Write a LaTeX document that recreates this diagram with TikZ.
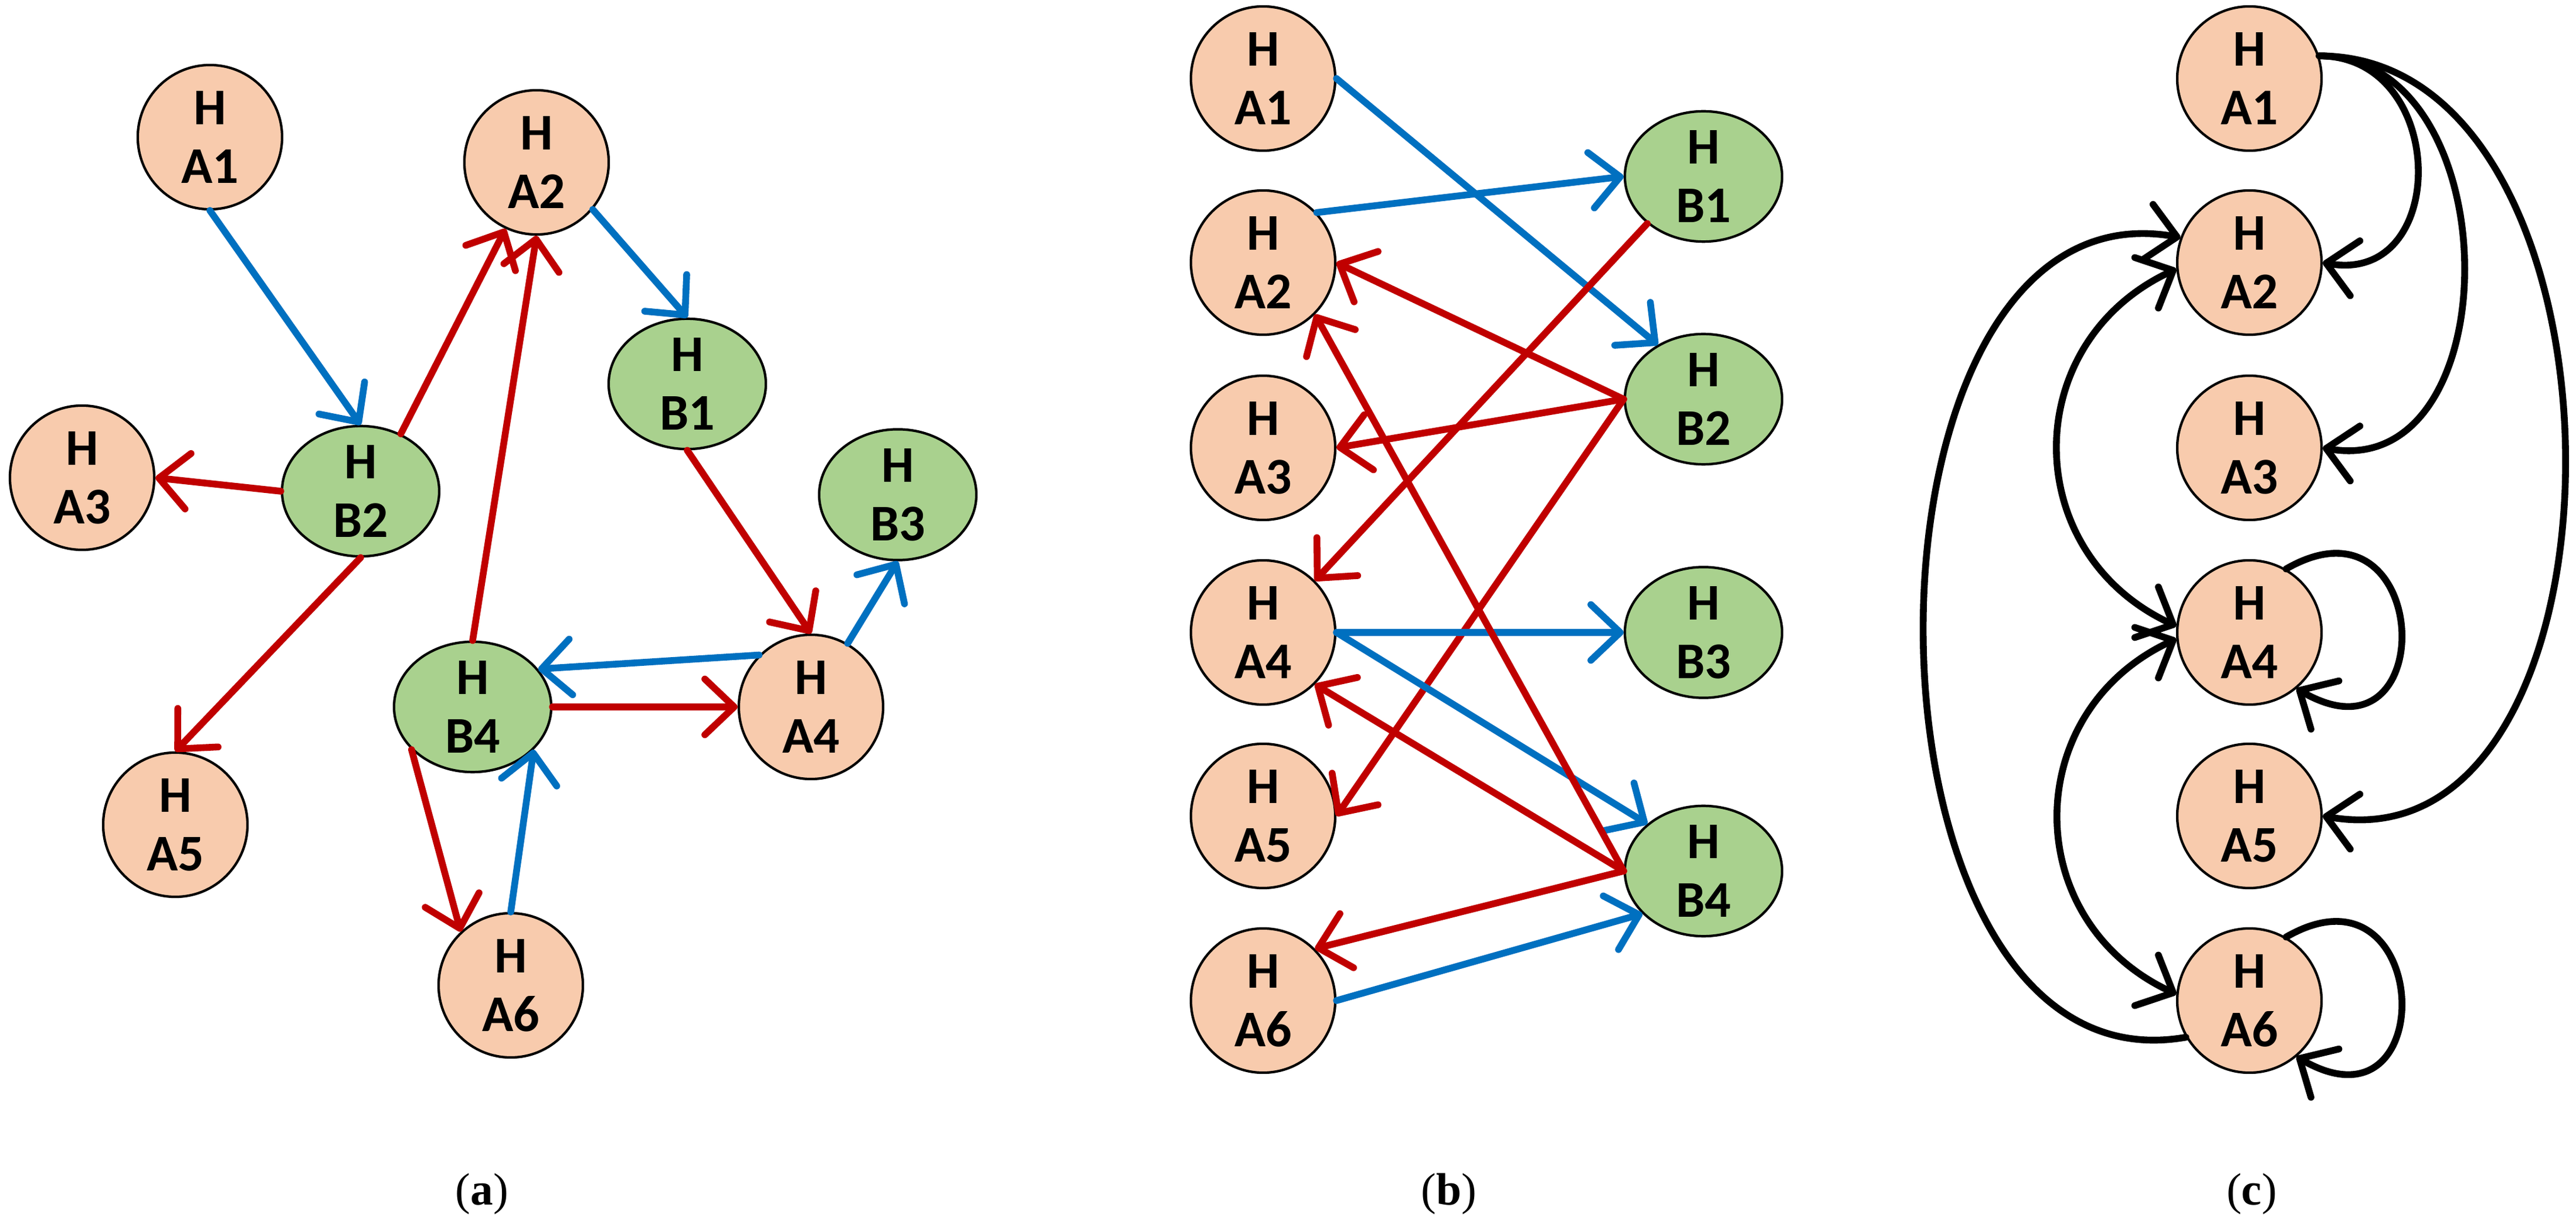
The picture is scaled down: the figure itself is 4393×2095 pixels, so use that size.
\documentclass[tikz,border=0pt]{standalone}
\usepackage{fontspec}
\setmainfont{Carlito}
\newfontfamily\capfont{Liberation Serif}
\usetikzlibrary{arrows.meta,shapes.geometric}
\definecolor{nodeA}{HTML}{F8CBAD}
\definecolor{nodeB}{HTML}{A9D18E}
\definecolor{eblue}{HTML}{0070C0}
\definecolor{ered}{HTML}{C00000}
\begin{document}
\begin{tikzpicture}[x=0.01cm,y=-0.01cm,
  every node/.style={draw=black,line width=1.2pt,inner sep=0pt,align=center,
    font=\fontsize{25}{28.5}\selectfont\bfseries},
  na/.style={circle,fill=nodeA,minimum size=2.46cm},
  nb/.style={ellipse,fill=nodeB,minimum width=2.68cm,minimum height=1.96cm},
  sublabel/.style={draw=none,font=\capfont\fontsize{22}{26}\selectfont},
  tip/.style={Straight Barb[length=0.5cm,width=0.95cm,line width=3.3pt,round]},
  ar/.style={line width=3.3pt,line cap=round,-{Straight Barb[length=0.5cm,width=0.95cm,line width=3.3pt,round]}},
  bl/.style={ar,eblue},
  rd/.style={ar,ered},
  bk/.style={ar,black},
  bb/.style={line width=3.3pt,line cap=round,{Straight Barb[length=0.5cm,width=0.95cm,line width=3.3pt,round]}-{Straight Barb[length=0.5cm,width=0.95cm,line width=3.3pt,round]},black}
]
\useasboundingbox (0,0) rectangle (4393,2095);
% ---------- (a)
\node[na] (a1) at (358,234) {H\\A1};
\node[na] (a2) at (915,277) {H\\A2};
\node[nb] (b1) at (1172,655) {H\\B1};
\node[na] (a3) at (140,815) {H\\A3};
\node[nb] (b2) at (615,838) {H\\B2};
\node[nb] (b3) at (1531,844) {H\\B3};
\node[nb] (b4) at (806,1206) {H\\B4};
\node[na] (a4) at (1383,1206) {H\\A4};
\node[na] (a5) at (299,1407) {H\\A5};
\node[na] (a6) at (871,1681) {H\\A6};
\node[sublabel] (la) at (822,2037) {(\textbf{a})};
\draw[bl] (a1.south) -- (b2.north);
\draw[rd] (b2.55) -- (a2.-115);
\draw[rd] (b2.west) -- (a3.east);
\draw[rd] (b2.south) -- (a5.north);
\draw[rd] (b4.north) -- (a2.south);
\draw[bl] (a2.-40) -- (b1.north);
\draw[rd] (b1.south) -- (a4.north);
\draw[bl] (a4.60) -- (b3.south);
\draw[bl] (a4.135) -- (b4.30);
\draw[rd] (b4.east) -- (a4.west);
\draw[rd] (b4.-145) -- (a6.133);
\draw[bl] (a6.north) -- (b4.-35);
% ---------- (b)
\node[na] (pa1) at (2154,134) {H\\A1};
\node[na] (pa2) at (2154,448) {H\\A2};
\node[na] (pa3) at (2154,764) {H\\A3};
\node[na] (pa4) at (2154,1079) {H\\A4};
\node[na] (pa5) at (2154,1392) {H\\A5};
\node[na] (pa6) at (2154,1707) {H\\A6};
\node[nb] (pb1) at (2905,301) {H\\B1};
\node[nb] (pb2) at (2905,681) {H\\B2};
\node[nb] (pb3) at (2905,1079) {H\\B3};
\node[nb] (pb4) at (2905,1486) {H\\B4};
\node[sublabel] (lb) at (2471,2037) {(\textbf{b})};
\draw[bl] (pa1.east) -- (pb2.130);
\draw[bl] (pa2.43) -- (pb1.west);
\draw[rd] (pb1.220) -- (pa4.45);
\draw[rd] (pb2.west) -- (pa2.east);
\draw[rd] (pb2.west) -- (pa3.east);
\draw[rd] (pb2.west) -- (pa5.east);
\draw[bl] (pa4.east) -- (pb3.west);
\draw[bl] (pa4.east) -- (pb4.140);
\draw[rd] (pb4.west) -- (pa4.-45);
\draw[rd] (pb4.west) -- (pa2.-45);
\draw[rd] (pb4.west) -- (pa6.45);
\draw[bl] (pa6.east) -- (pb4.-145);
% ---------- (c)
\node[na] (c1) at (3836,134) {H\\A1};
\node[na] (c2) at (3836,448) {H\\A2};
\node[na] (c3) at (3836,764) {H\\A3};
\node[na] (c4) at (3836,1079) {H\\A4};
\node[na] (c5) at (3836,1392) {H\\A5};
\node[na] (c6) at (3836,1707) {H\\A6};
\node[sublabel] (lc) at (3840,2037) {(\textbf{c})};
\draw[bk] (c1.18) to[out=0,in=-10,looseness=1.6] (c2.east);
\draw[bk] (c1.18) to[out=0,in=-10,looseness=1.25] (c3.east);
\draw[bk] (c1.18) to[out=0,in=-10,looseness=1.1] (c5.east);
\draw[bb] (c2.185) to[out=205,in=155,looseness=1.25] (c4.175);
\draw[bb] (c4.185) to[out=205,in=155,looseness=1.25] (c6.175);
\draw[bk] (c6.-150) to[out=190,in=170,looseness=1.12] (c2.160);
\draw[bk] (c4.60) to[out=30,in=-30,looseness=3.6] (c4.-50);
\draw[bk] (c6.60) to[out=30,in=-30,looseness=3.6] (c6.-50);
\end{tikzpicture}
\end{document}
